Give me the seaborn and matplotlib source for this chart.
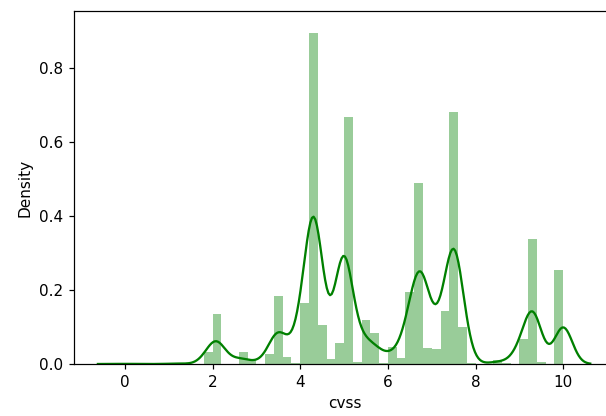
import numpy as np
import pandas as pd
import matplotlib
matplotlib.use("Agg")
import matplotlib.pyplot as plt
import seaborn as sns

# CVSS score values (one representative score per occupied bin) and their counts
cvss_values = [0.0, 1.2, 1.9, 2.1, 2.6, 2.9, 3.3, 3.5, 3.7, 3.9, 4.0, 4.3, 4.5, 4.7,
               4.9, 5.0, 5.3, 5.4, 5.7, 5.9, 6.1, 6.3, 6.5, 6.75, 6.9, 7.1, 7.2,
               7.5, 7.7, 7.9, 8.5, 8.7, 9.0, 9.3, 9.5, 10.0]
counts = [2, 6, 66, 274, 64, 20, 54, 370, 36, 4, 336, 1810, 214, 30,
          116, 1350, 10, 238, 170, 6, 94, 32, 396, 990, 90, 84, 292,
          1376, 202, 8, 24, 6, 136, 684, 10, 512]

df = pd.DataFrame({"cvss": np.repeat(cvss_values, counts)})

W, H, DPI = 606, 416, 110
fig = plt.figure(figsize=(W / DPI, H / DPI), dpi=DPI)
ax = fig.add_axes([74 / W, (H - 364) / H, 541 / W, 353 / H])

sns.histplot(data=df, x="cvss", bins=50, stat="density", color="g",
             alpha=0.4, linewidth=0, ax=ax)
bw = 0.205 / df["cvss"].std()
sns.kdeplot(data=df, x="cvss", bw_method=bw, cut=3, gridsize=300,
            color="g", linewidth=1.5, ax=ax)

ax.set_xlim(-1.16, 11.18)
ax.set_ylim(0, 0.954)
ax.set_xticks([0, 2, 4, 6, 8, 10])
ax.set_yticks([0.0, 0.2, 0.4, 0.6, 0.8])
ax.set_xlabel("cvss")
ax.set_ylabel("Density")

fig.savefig("out.png", dpi=DPI)
